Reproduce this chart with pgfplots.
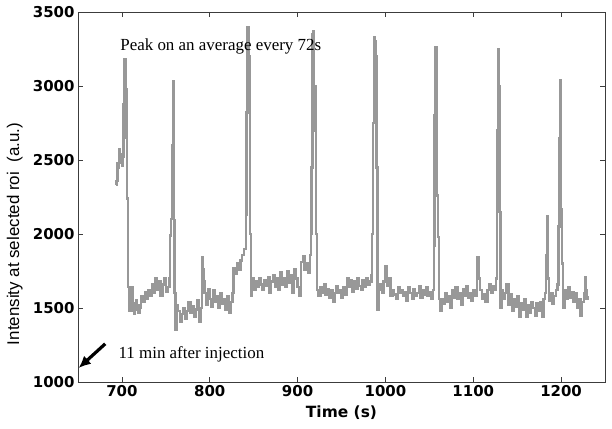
\documentclass[border=0pt]{standalone}
\usepackage{fontspec}
\setmainfont{Liberation Serif}
\newfontfamily\arial{Liberation Sans}
\newfontfamily\dejavu{DejaVu Sans}
\usepackage{pgfplots}
\pgfplotsset{compat=1.18}
\usetikzlibrary{arrows.meta}
\definecolor{trace}{RGB}{152,152,152}
\definecolor{axcol}{RGB}{60,60,60}
\begin{document}
\begin{tikzpicture}
\useasboundingbox (-78bp,-47bp) rectangle (534bp,382bp);
\begin{axis}[
  at={(0,0)}, anchor=south west,
  scale only axis, width=527bp, height=370bp,
  xmin=650, xmax=1250, ymin=1000, ymax=3500,
  xtick={700,800,...,1200}, ytick={1000,1500,...,3500},
  tick align=inside, major tick length=5bp,
  axis line style={axcol, line width=0.8bp},
  every tick/.style={axcol, line width=0.8bp},
  /pgf/number format/1000 sep={},
  /pgf/number format/assume math mode=true,
  ticklabel style={font=\dejavu\bfseries\fontsize{15}{17}\selectfont},
  xlabel={Time (s)},
  ylabel={Intensity at selected roi\ \ (a.u.)},
  xlabel style={font=\dejavu\bfseries\fontsize{15.5}{18}\selectfont, at={(axis description cs:0.5,-0.084)}, anchor=center},
  ylabel style={font=\arial\fontsize{17}{19}\selectfont, at={(axis description cs:-0.12,0.40)}, anchor=center, rotate=0},
  clip=true,
]
\addplot[const plot, trace, line width=2.4bp] coordinates {
(693,2330) (694,2360) (695,2480) (696,2450) (697,2570) (698,2480) (699,2540) (700,2460) (701,2520) (702,2880) (703,3180) (704,2980) (705,2650) (706,2240) (707,1640) (708,1480)
(709,1620) (710,1550) (711,1640) (712,1480) (713,1530) (714,1460) (715,1510) (716,1550) (717,1490) (718,1520) (719,1470) (720,1500) (722,1580) (724,1540) (726,1610) (728,1560) (730,1620) (732,1580) (734,1660) (736,1600) (738,1700) (740,1620) (742,1680) (744,1580) (746,1660) (748,1700) (750,1610) (752,1640) (754,1700)
(755,1990) (756,2100) (757,2600) (758,3030) (759,2090) (760,1600) (761,1350) (762,1420) (763,1520) (764,1480) (766,1410) (768,1460) (770,1500) (772,1430) (774,1480) (776,1540) (778,1470) (780,1510) (782,1440) (784,1490) (786,1550) (788,1410) (790,1500)
(791,1840) (792,1760) (793,1680) (794,1600) (796,1520) (798,1630) (800,1560) (802,1510) (804,1620) (806,1540) (808,1580) (810,1500) (812,1600) (814,1530) (816,1560) (818,1490) (820,1580) (822,1470) (824,1540) (826,1600)
(827,1770) (829,1730) (831,1800) (833,1760) (835,1820) (837,1860) (839,1900) (841,2130) (842,2820) (843,3400) (844,3380) (845,3200) (846,2000) (847,1580) (848,1700)
(850,1620) (852,1680) (854,1640) (856,1700) (858,1660) (860,1620) (862,1690) (864,1650) (866,1710) (868,1600) (870,1680) (872,1720) (874,1640) (876,1700) (878,1620) (880,1740) (882,1660) (884,1700) (886,1640) (888,1750) (890,1670) (892,1720) (894,1600) (896,1760) (898,1700) (900,1640) (902,1580)
(904,1810) (906,1850) (908,1760) (910,1800) (912,1740) (914,1860) (915,2000) (916,2450) (917,3350) (918,3370) (919,2700) (920,3000) (921,2000) (922,1620)
(924,1580) (926,1640) (928,1600) (930,1660) (932,1590) (934,1630) (936,1570) (938,1620) (940,1540) (942,1600) (944,1650) (946,1600) (948,1620) (950,1570) (952,1640) (954,1590) (956,1700) (958,1640) (960,1690) (962,1610) (964,1680) (966,1630) (968,1700) (970,1650) (972,1620) (974,1690) (976,1640) (978,1700) (980,1660) (982,1680) (984,1720)
(985,2000) (986,2750) (987,3330) (988,3300) (989,3200) (990,2450) (991,1490) (992,1620) (994,1660) (996,1600) (998,1680) (1000,1780) (1002,1650) (1004,1700) (1006,1580) (1008,1620) (1010,1590) (1012,1560) (1014,1640) (1016,1600) (1018,1620) (1020,1580) (1022,1610) (1024,1550) (1026,1640) (1028,1600) (1030,1560) (1032,1630) (1034,1580) (1036,1600) (1038,1650) (1040,1570) (1042,1620) (1044,1590) (1046,1640) (1048,1580) (1050,1610) (1052,1560) (1054,1620)
(1055,1920) (1056,2800) (1057,3260) (1058,3030) (1059,2260) (1060,1980) (1061,1560) (1062,1480) (1064,1560) (1066,1530) (1068,1600) (1070,1540) (1072,1580) (1074,1500) (1076,1620) (1078,1570) (1080,1640) (1082,1560) (1084,1600) (1086,1520) (1088,1630) (1090,1580) (1092,1650) (1094,1570) (1096,1600) (1098,1550) (1100,1620) (1102,1580) (1104,1700) (1105,1840) (1106,1700) (1108,1620) (1110,1560) (1112,1590) (1114,1540) (1116,1620) (1118,1660) (1120,1600) (1122,1650) (1124,1620) (1126,1700)
(1127,2700) (1128,3250) (1129,3000) (1130,2150) (1131,1500) (1132,1620) (1134,1560) (1136,1600) (1138,1660) (1140,1520) (1142,1590) (1144,1480) (1146,1560) (1148,1510) (1150,1580) (1152,1440) (1154,1530) (1156,1490) (1158,1560) (1160,1440) (1162,1520) (1164,1470) (1166,1540) (1168,1500) (1170,1450) (1172,1530) (1174,1480) (1176,1540) (1178,1440) (1180,1560) (1182,1600)
(1183,1860) (1184,2120) (1185,1700) (1186,1550) (1188,1600) (1190,1530) (1192,1580) (1194,1620) (1196,1660) (1197,2050) (1198,2650) (1199,3040) (1200,2170) (1201,1800) (1202,1500) (1204,1620) (1206,1560) (1208,1640) (1210,1570) (1212,1610) (1214,1540) (1216,1600) (1218,1500) (1220,1560) (1222,1450) (1224,1540) (1226,1600) (1227,1710) (1228,1620) (1229,1560) (1230,1580)
};
\draw[-{Latex[length=12bp,width=11bp]}, line width=3.2bp, black] (axis cs:681,1258) -- (axis cs:650.8,1095);
\node[anchor=west, font=\fontsize{17}{19}\selectfont, inner sep=0pt] at (axis cs:696,1185) {11 min after injection};
\node[anchor=west, font=\fontsize{17}{19}\selectfont, inner sep=0pt] at (axis cs:698,3270) {Peak on an average every 72s};
\end{axis}
\end{tikzpicture}
\end{document}
